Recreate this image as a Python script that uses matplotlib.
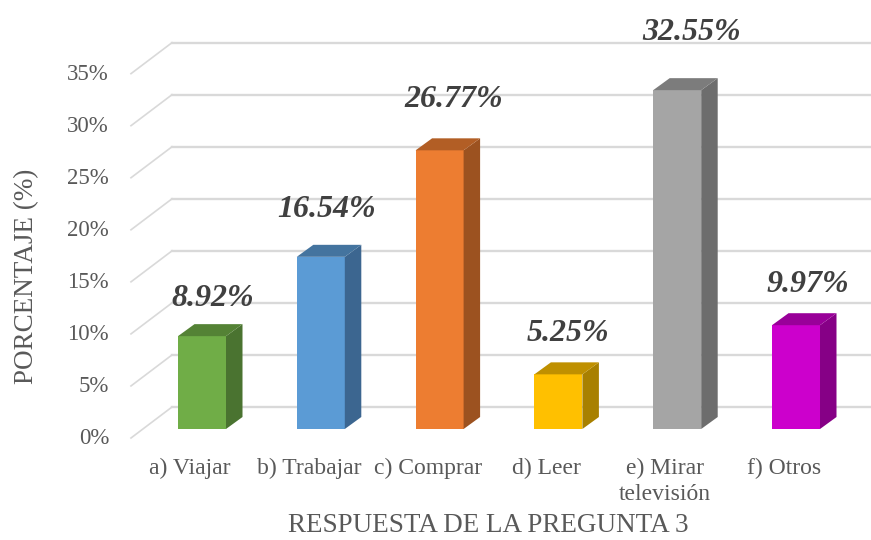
import matplotlib.pyplot as plt
from matplotlib.patches import Polygon

categories = ["a) Viajar", "b) Trabajar", "c) Comprar", "d) Leer", "e) Mirar\ntelevisión", "f) Otros"]
values = [8.92, 16.54, 26.77, 5.25, 32.55, 9.97]
y_ticks = [0, 5, 10, 15, 20, 25, 30, 35]
front_colors = ["#70AD47", "#5B9BD5", "#ED7D31", "#FFC000", "#A5A5A5", "#CC00CC"]
top_colors = ["#548235", "#44749F", "#B25E25", "#BF9000", "#7C7C7C", "#990099"]
side_colors = ["#4A7330", "#3C6690", "#9C5220", "#A88000", "#6D6D6D", "#860086"]
# data labels were moved by hand in the original, pixel shifts from the bar top
label_dx = [11, 6, 14, 10, 14, 12]
label_dy = [38, 47.5, 50.5, 41, 58, 40.5]

W, H = 871, 540
X0, DX = 202, 118.8   # pixel of first category, pixels per category
Y0, DY = 429, 10.41   # pixel of 0 %, pixels per percent

plt.rcParams["font.family"] = ["Liberation Serif", "DejaVu Serif"]
fig = plt.figure(figsize=(W / 100, H / 100), dpi=100)
ax = fig.add_axes([0, 0, 1, 1])
ax.set_xlim(-X0 / DX, (W - X0) / DX)
ax.set_ylim((Y0 - H) / DY, Y0 / DY)
ax.axis("off")

bar_w = 48 / DX
depth_x = 16.5 / DX
depth_y = 12 / DY
grid_x_back = -30 / DX     # back wall starts here
grid_x_front = -71 / DX    # floor front corner
grid_y_back = 22 / DY
grid_y_front = -9 / DY
grid_end = (W - X0) / DX

for t in y_ticks:
    ax.plot([grid_x_front, grid_x_back], [t + grid_y_front, t + grid_y_back],
            color="#D9D9D9", lw=1.2, zorder=1)
    ax.plot([grid_x_back, grid_end], [t + grid_y_back, t + grid_y_back],
            color="#D9D9D9", lw=1.7, zorder=1)
    ax.text((109 - X0) / DX, t - 10 / DY, f"{t}%",
            ha="right", va="center", fontsize=16.5, color="#595959")

for i, v in enumerate(values):
    l, r = i - bar_w / 2, i + bar_w / 2
    ax.bar(i, v, width=bar_w, color=front_colors[i], zorder=3)
    ax.add_patch(Polygon([(r, 0), (r + depth_x, depth_y), (r + depth_x, v + depth_y), (r, v)],
                         facecolor=side_colors[i], edgecolor="none", zorder=3))
    ax.add_patch(Polygon([(l, v), (l + depth_x, v + depth_y), (r + depth_x, v + depth_y), (r, v)],
                         facecolor=top_colors[i], edgecolor="none", zorder=3))
    ax.text(i + label_dx[i] / DX, v + label_dy[i] / DY, f"{v:.2f}%", ha="center", va="center",
            fontsize=23, fontweight="bold", fontstyle="italic", color="#404040", zorder=4)
    ax.text(i - 12 / DX, (Y0 - 458) / DY, categories[i], ha="center", va="top", fontsize=17,
            color="#595959", linespacing=1.3)

ax.text((488 - X0) / DX, (Y0 - 526) / DY, "RESPUESTA DE LA PREGUNTA 3", ha="center", va="center",
        fontsize=19.5, color="#595959")
ax.text((27 - X0) / DX, (Y0 - 276) / DY, "PORCENTAJE (%)", ha="center", va="center", rotation=90,
        fontsize=19.5, color="#595959")

fig.savefig("out.png", dpi=100)
